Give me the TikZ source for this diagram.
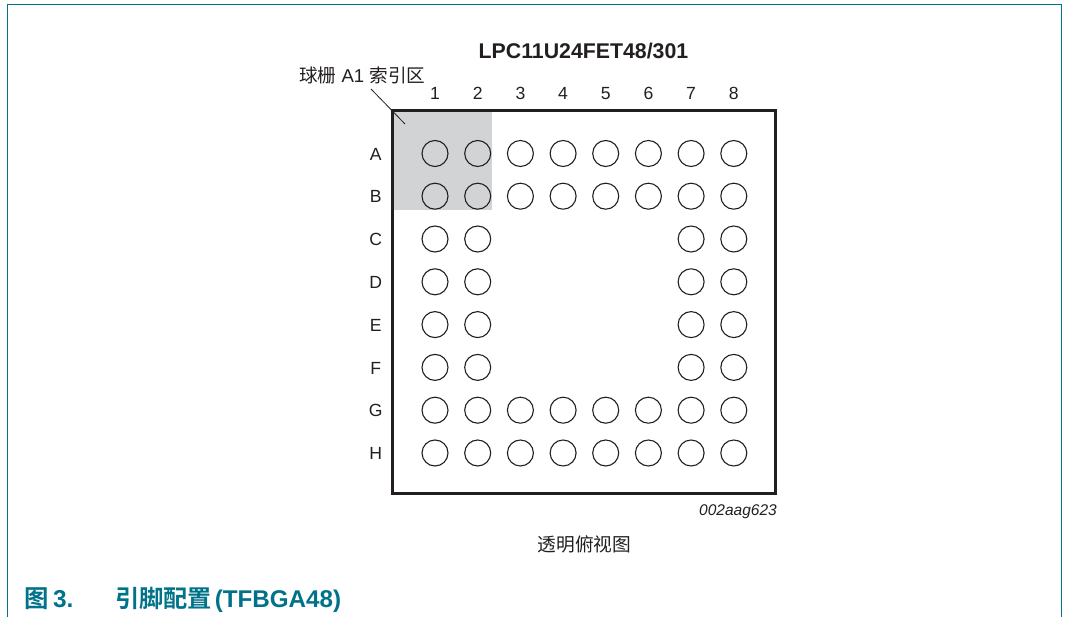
\documentclass[tikz,border=0pt]{standalone}
\usepackage{fontspec}
\setmainfont{Liberation Sans}
\newfontfamily\cjk{Noto Sans CJK SC}
\newfontfamily\cjkb{Noto Sans CJK SC Bold}
\definecolor{capteal}{HTML}{00728A}
\definecolor{ink}{HTML}{231F20}
\definecolor{cornergrey}{HTML}{D1D3D4}
\tikzset{
  lbl/.style={inner sep=0pt,text=ink,font=\fontsize{17.6}{17.6}\selectfont},
  ball/.style={circle,draw=ink,line width=1.1pt,minimum size=26pt,inner sep=0pt},
  leader/.style={draw=ink,line width=0.8pt},
  captxt/.style={inner sep=0pt,anchor=base west,text=capteal}
}
\begin{document}
\begin{tikzpicture}[x=1pt,y=-1pt]
\useasboundingbox (0,0) rectangle (1065,617);
\fill[white] (0,0) rectangle (1065,617);
\draw[capteal,line width=1.3pt] (7.5,617) -- (7.5,4.5) -- (1061.5,4.5) -- (1061.5,617);
\fill[cornergrey] (392,110) rectangle (492,210);
\foreach \c/\x in {1/435,2/477.7,3/520.4,4/563.1,5/605.7,6/648.4,7/691.1,8/733.8}{
  \node[lbl,anchor=base] (col\c) at (\x,100) {\c};
  \foreach \r/\y in {A/153.5,B/196.2,G/410.2,H/453}{
    \node[ball] (\r\c) at (\x,\y) {};
  }
}
\foreach \c/\x in {1/435,2/477.7,7/691.1,8/733.8}{
  \foreach \r/\y in {C/239,D/281.8,E/324.6,F/367.4}{
    \node[ball] (\r\c) at (\x,\y) {};
  }
}
\foreach \r/\y in {A/160.2,B/202.9,C/245.7,D/288.5,E/331.3,F/374.1,G/416.9,H/459.7}{
  \node[lbl,anchor=base] (row\r) at (375.8,\y) {\r};
}
\node[draw=ink,line width=2.7pt,minimum width=383.5pt,minimum height=383.5pt,inner sep=0pt] (chip) at (584,302) {};
\node[inner sep=0pt,text=ink,font=\bfseries\fontsize{21.3}{21.3}\selectfont] (title) at (583.5,51) {LPC11U24FET48/301};
\node[lbl,anchor=base west,font=\fontsize{18.6}{18.6}\selectfont] (idx) at (299,82.6) {{\cjk 球栅} A1 {\cjk 索引区}};
\coordinate (la) at (371,89);
\coordinate (lb) at (405,124);
\draw[leader] (la) -- (lb);
\node[lbl,anchor=base east,font=\itshape\fontsize{15.5}{15.5}\selectfont] (code) at (777,515.5) {002aag623};
\node[lbl,font=\cjk\fontsize{18.7}{18.7}\selectfont] (view) at (584.5,544) {透明俯视图};
\node[captxt] (fig) at (24,607) {{\cjkb\fontsize{24.4}{24.4}\selectfont 图}\hspace{4.5pt}{\bfseries\fontsize{24.4}{24.4}\selectfont 3.}};
\node[captxt] (figt) at (115,607) {{\cjkb\fontsize{24.2}{24.2}\selectfont 引脚配置} {\bfseries\fontsize{24.2}{24.2}\selectfont (TFBGA48)}};
\end{tikzpicture}
\end{document}
